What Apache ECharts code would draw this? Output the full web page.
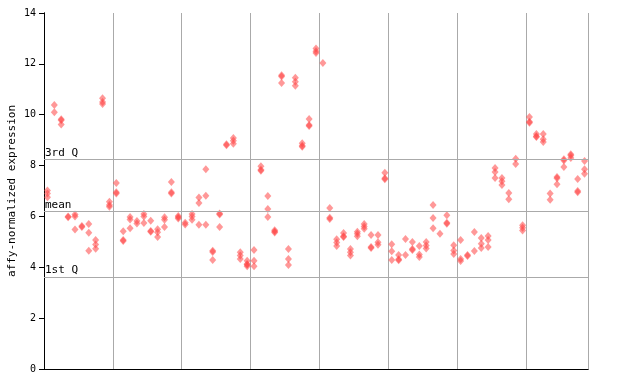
<!DOCTYPE html>
<html>
<head>
<meta charset="utf-8">
<script src="https://cdn.jsdelivr.net/npm/echarts@6/dist/echarts.min.js"></script>
<style>html,body{margin:0;padding:0;background:#fff}#c{width:640px;height:384px}</style>
</head>
<body>
<div id="c"></div>
<script>
// Expression values per sample column, grouped in blocks of ten (separated by grey lines)
const group1 = [[7.02,6.9,6.75],[10.38,10.1],[9.82,9.78,9.62],[6.0,5.97],[6.08,6.0,5.49],[5.62,5.58],[5.7,5.36,4.65],[5.07,4.9,4.73],[10.65,10.5,10.42],[6.58,6.45,6.38]];
const group2 = [[7.31,6.95,6.9],[5.42,5.07,5.03],[5.98,5.88,5.54],[5.82,5.72],[6.1,6.0,5.74],[5.83,5.43,5.4],[5.5,5.38,5.19],[5.97,5.87,5.58],[7.35,6.95,6.9],[6.02,5.97,5.92]];
const group3 = [[5.75,5.68],[6.1,6.0,5.87],[6.74,6.53,5.67],[7.86,6.81,5.67],[4.65,4.6,4.29],[6.12,6.08,5.58],[8.84,8.8],[9.08,8.98,8.86],[4.59,4.46,4.33],[4.26,4.13,4.1,4.04]];
const group4 = [[4.68,4.26,4.04],[7.97,7.84,7.8],[6.8,6.29,5.98],[5.46,5.41,5.37],[11.55,11.5,11.25],[4.72,4.33,4.09],[11.45,11.3,11.14],[8.88,8.78,8.74],[9.83,9.6,9.56],[12.6,12.5,12.43]];
const group5 = [[12.03],[6.33,5.95,5.9],[5.1,4.97,4.84],[5.35,5.22,5.19],[4.72,4.59,4.46],[5.4,5.32,5.22],[5.7,5.6,5.52],[5.27,4.8,4.76],[5.27,4.98,4.89],[7.72,7.5,7.46]];
const group6 = [[4.91,4.63,4.29],[4.48,4.32,4.28],[5.11,4.48],[4.99,4.72,4.68],[4.84,4.5,4.4],[4.99,4.86,4.74],[6.45,5.94,5.54],[5.32],[6.05,5.75,5.71],[4.87,4.66,4.52]];
const group7 = [[5.07,4.33,4.25],[4.48,4.44],[5.39,4.64],[5.15,4.93,4.76],[5.23,5.07,4.8],[7.9,7.75,7.51],[7.51,7.38,7.24],[6.92,6.68],[8.27,8.06],[5.65,5.55,5.45]];
const group8 = [[9.91,9.72,9.68],[9.24,9.15,9.12],[9.24,9.04,8.93],[6.9,6.66],[7.55,7.5,7.27],[8.25,8.2,7.94],[8.45,8.4,8.3],[7.47,7.0,6.95],[8.18,7.86,7.68]];
// Reference statistics lines
const refNames = ['3rd Q', 'mean', '1st Q'];
const refValues = [8.23, 6.2, 3.62];
const yTicks = [0, 2, 4, 6, 8, 10, 12, 14];
const yName = 'affy-normalized expression';

const columns = [].concat(group1, group2, group3, group4, group5, group6, group7, group8);
const nCols = columns.length;
const points = [];
columns.forEach((vals, k) => vals.forEach(v => points.push([k + 0.5, v])));

const font = 'DejaVu Sans Mono';
const chart = echarts.init(document.getElementById('c'), null, {renderer: 'canvas'});
chart.setOption({
  animation: false,
  backgroundColor: '#fff',
  grid: {left: 44, right: 52, top: 13, bottom: 15, containLabel: false, outerBoundsMode: 'none'},
  xAxis: [{
    type: 'value', min: 0, max: nCols, interval: 10,
    axisLine: {show: true, lineStyle: {color: '#000', width: 1}},
    axisTick: {show: false}, axisLabel: {show: false},
    splitLine: {show: true, lineStyle: {color: '#aaa', width: 1}}
  }, {
    type: 'value', min: 0, max: nCols, position: 'top',
    axisLine: {show: true, lineStyle: {color: '#000', width: 1}},
    axisTick: {show: false}, axisLabel: {show: false}, splitLine: {show: false}
  }],
  yAxis: [{
    type: 'value', min: yTicks[0], max: yTicks[yTicks.length - 1], interval: 2,
    name: yName, nameLocation: 'middle', nameRotate: 90, nameGap: 26, nameMoveOverlap: false,
    nameTextStyle: {fontFamily: font, fontSize: 11, color: '#000'},
    axisLine: {show: true, lineStyle: {color: '#000', width: 1}},
    axisTick: {show: true, length: 5, lineStyle: {color: '#000'}},
    axisLabel: {fontFamily: font, fontSize: 10, color: '#000', margin: 8},
    splitLine: {show: false}
  }, {
    type: 'value', min: yTicks[0], max: yTicks[yTicks.length - 1], interval: 2, position: 'right',
    axisLine: {show: true, lineStyle: {color: '#000', width: 1}},
    axisTick: {show: true, inside: true, length: 5, lineStyle: {color: '#000'}},
    axisLabel: {show: false}, splitLine: {show: false}
  }],
  series: [{
    type: 'scatter',
    data: points,
    symbol: 'diamond',
    symbolSize: [7, 8],
    itemStyle: {color: '#ff4444', opacity: 0.55},
    markLine: {
      silent: true, symbol: 'none',
      lineStyle: {color: '#aaa', width: 1, type: 'solid'},
      label: {position: 'insideStartTop', distance: [1, 1], fontFamily: font, fontSize: 11, color: '#000',
              formatter: p => p.name},
      data: refNames.map((n, i) => ({name: n, yAxis: refValues[i]}))
    },
    z: 3
  }]
});
</script>
</body>
</html>
